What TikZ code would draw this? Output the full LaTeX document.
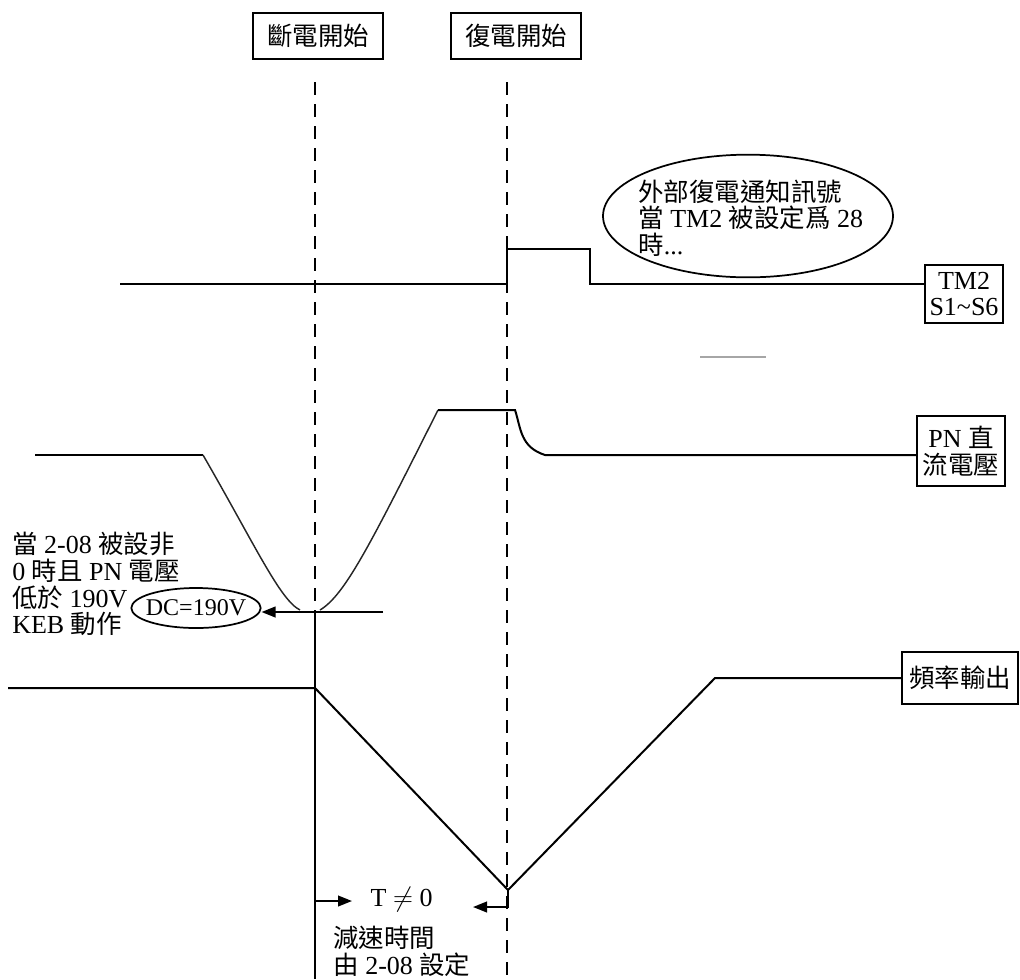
\documentclass[tikz,border=0pt]{standalone}
\usepackage{fontspec}
\setmainfont{Liberation Serif}
\newfontfamily\cjk[Scale=0.98]{Noto Sans CJK TC}
\newcommand\zh[1]{{\cjk #1}}
\usetikzlibrary{arrows.meta,positioning,shapes.geometric}
\tikzset{
  >={Triangle[length=10.5pt,width=8pt]},
  tag box/.style={draw,line width=1.5pt,inner sep=0pt,minimum width=#1,align=center},
  sig/.style={line width=1.5pt},
  slope/.style={line width=1.1pt,black!85},
  event/.style={line width=1.5pt,dash pattern=on 10pt off 6.5pt},
  oval/.style={draw,ellipse,line width=1.3pt,inner sep=0pt},
  note/.style={align=left,inner sep=0pt},
}
\begin{document}
\begin{tikzpicture}[x=0.75pt,y=-0.75pt,font=\fontsize{19.5}{20}\selectfont]
  \useasboundingbox (0,0) rectangle (1020,979);
  % event marks
  \node[tag box=97.5pt,minimum height=34pt] (off) at (318,36) {\zh{斷電開始}};
  \node[tag box=98pt,minimum height=34pt] (on) at (516,36) {\zh{復電開始}};
  \coordinate (offtop) at (315,82);
  \coordinate (offmid) at (315,612);
  \coordinate (offbot) at (315,979);
  \coordinate (ontop) at (507,82);
  \coordinate (onbot) at (507,979);
  \draw[event] (offtop) -- (offmid);
  \draw[sig] (offmid) -- (offbot);
  \draw[event] (ontop) -- (onbot);
  % signal labels
  \node[tag box=59pt,minimum height=43.5pt] (tm) at (964,294) {TM2\\S1\char"7E S6};
  \node[tag box=66pt,minimum height=52pt] (pn) at (961,451) {PN \zh{直}\\\zh{流電壓}};
  \node[tag box=87pt,minimum height=39pt] (fq) at (960,678) {\zh{頻率輸出}};
  % TM2 pulse
  \coordinate (s0) at (120,284);
  \draw[sig] (s0) -- (507,284) -- (507,249) -- (590,249) -- (590,284) -- (tm.west |- s0);
  \node[oval,minimum width=217.5pt,minimum height=92pt] (ext) at (748,216) {};
  \node[note,anchor=west] (extx) at (638,218) {\zh{外部復電通知訊號}\\\zh{當} TM2 \zh{被設定爲} 28\\\zh{時}...};
  \draw[gray!70,line width=1pt] (700,357) -- (766,357);
  % PN voltage
  \coordinate (p0) at (35,455);
  \draw[sig] (p0) -- (203,455);
  \draw[slope] (203,455) .. controls (255,545) and (280,600) .. (300,610);
  \draw[slope] (320,610) .. controls (345,595) and (370,545) .. (438,410);
  \draw[sig] (438,410) -- (515,410) .. controls (521,428) and (520,447) .. (545,455) -- (pn.west |- p0);
  \node[oval,minimum width=97pt,minimum height=30pt] (dc) at (196,608) {};
  \node[font=\fontsize{18}{20}\selectfont] (dcx) at (dc.center) {DC=190V};
  \coordinate (d0) at (383,612);
  \draw[sig,->] (d0) -- (dc.east |- d0);
  \node[note,anchor=west] (keb) at (12,584) {\zh{當} 2-08 \zh{被設非}\\0 \zh{時且} PN \zh{電壓}\\\zh{低於} 190V\\KEB \zh{動作}};
  % output frequency
  \coordinate (f0) at (8,688);
  \draw[sig] (f0) -- (315,688) -- (508,890) -- (715,678) -- (fq.west);
  \draw[sig,->] (508,890) -- (508,907) -- (473,907);
  \draw[sig,->] (315,901) -- (352,901);
  \node[anchor=west] (tne) at (366,900) {T $\neq$ 0};
  \node[note,anchor=west] (dec) at (333,951) {\zh{減速時間}\\\zh{由} 2-08 \zh{設定}};
\end{tikzpicture}
\end{document}
